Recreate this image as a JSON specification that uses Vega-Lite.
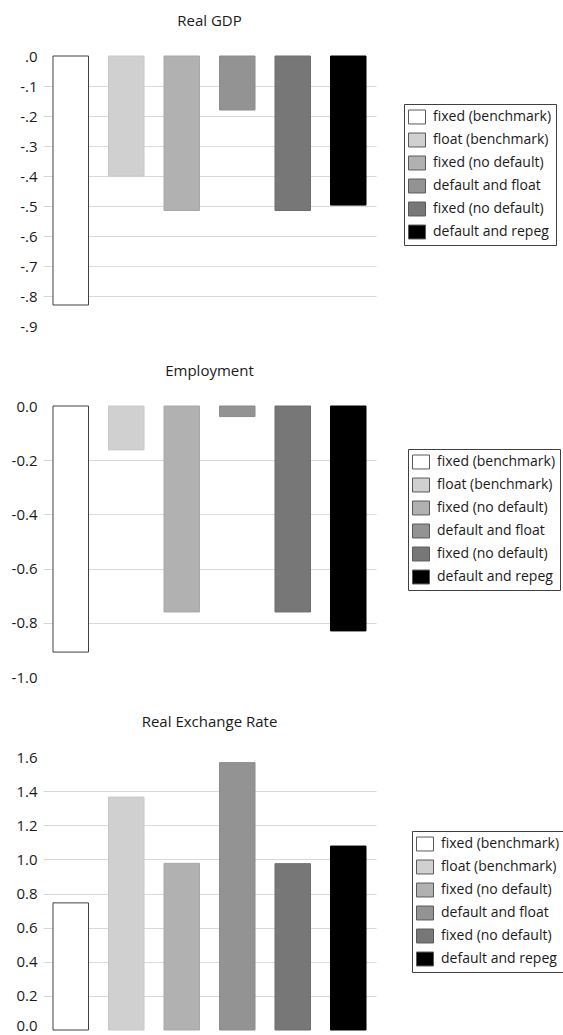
{
  "$schema": "https://vega.github.io/schema/vega-lite/v6.json",
  "padding": {"left": 11, "top": 14, "right": 0, "bottom": 0},
  "background": "white",
  "config": {
    "font": "Open Sans",
    "view": {"stroke": null},
    "title": {"fontSize": 15, "fontWeight": "normal", "color": "#1a1a1a", "anchor": "middle", "offset": 20},
    "axis": {"domain": false, "ticks": false, "labelFontSize": 15, "labelColor": "#1a1a1a", "labelPadding": 6, "gridColor": "#d9d9d9", "gridWidth": 1},
    "legend": {"labelFontSize": 14, "labelColor": "#1a1a1a", "strokeColor": "#404040", "fillColor": "white", "padding": 4, "rowPadding": 5, "labelOffset": 7, "symbolStrokeColor": "#595959", "symbolStrokeWidth": 1, "symbolType": "M-1,-0.82H1V0.82H-1Z", "symbolSize": 289, "orient": "none", "title": null}
  },
  "data": {
    "values": [
      {"panel": "Real GDP", "key": 1, "scenario": "fixed (benchmark)", "value": -0.83},
      {"panel": "Real GDP", "key": 2, "scenario": "float (benchmark)", "value": -0.40},
      {"panel": "Real GDP", "key": 3, "scenario": "fixed (no default)", "value": -0.515},
      {"panel": "Real GDP", "key": 4, "scenario": "default and float", "value": -0.18},
      {"panel": "Real GDP", "key": 5, "scenario": "fixed (no default)", "value": -0.515},
      {"panel": "Real GDP", "key": 6, "scenario": "default and repeg", "value": -0.497},
      {"panel": "Employment", "key": 1, "scenario": "fixed (benchmark)", "value": -0.908},
      {"panel": "Employment", "key": 2, "scenario": "float (benchmark)", "value": -0.162},
      {"panel": "Employment", "key": 3, "scenario": "fixed (no default)", "value": -0.76},
      {"panel": "Employment", "key": 4, "scenario": "default and float", "value": -0.039},
      {"panel": "Employment", "key": 5, "scenario": "fixed (no default)", "value": -0.76},
      {"panel": "Employment", "key": 6, "scenario": "default and repeg", "value": -0.83},
      {"panel": "Real Exchange Rate", "key": 1, "scenario": "fixed (benchmark)", "value": 0.745},
      {"panel": "Real Exchange Rate", "key": 2, "scenario": "float (benchmark)", "value": 1.365},
      {"panel": "Real Exchange Rate", "key": 3, "scenario": "fixed (no default)", "value": 0.977},
      {"panel": "Real Exchange Rate", "key": 4, "scenario": "default and float", "value": 1.567},
      {"panel": "Real Exchange Rate", "key": 5, "scenario": "fixed (no default)", "value": 0.975},
      {"panel": "Real Exchange Rate", "key": 6, "scenario": "default and repeg", "value": 1.078}
    ]
  },
  "vconcat": [
    {
      "title": "Real GDP",
      "width": 333,
      "height": 270,
      "transform": [{"filter": "datum.panel == 'Real GDP'"}],
      "mark": {"type": "bar", "strokeWidth": 1},
      "encoding": {
        "x": {"field": "key", "type": "nominal", "axis": null, "scale": {"paddingInner": 0.36, "paddingOuter": 0.18}},
        "y": {"field": "value", "type": "quantitative", "scale": {"domain": [-0.9, 0], "nice": false, "zero": false},
          "axis": {"title": null, "values": [0, -0.1, -0.2, -0.3, -0.4, -0.5, -0.6, -0.7, -0.8, -0.9],
            "labelExpr": "replace(replace(format(datum.value, '.1f'), '\u2212', '-'), '0.', '.')",
            "gridColor": {"condition": {"test": "datum.value == 0 || datum.value < -0.85", "value": "transparent"}, "value": "#d9d9d9"}}},
        "color": {"field": "key", "type": "nominal",
          "scale": {"domain": [1, 2, 3, 4, 5, 6], "range": ["#ffffff", "#d0d0d0", "#b1b1b1", "#939393", "#777777", "#000000"]},
          "legend": {"legendX": 361, "legendY": 48, "labelExpr": "['', 'fixed (benchmark)', 'float (benchmark)', 'fixed (no default)', 'default and float', 'fixed (no default)', 'default and repeg'][datum.value]"}},
        "stroke": {"field": "key", "type": "nominal", "legend": null,
          "scale": {"domain": [1, 2, 3, 4, 5, 6], "range": ["#404040", "#c8c8c8", "#a8a8a8", "#8a8a8a", "#6e6e6e", "#000000"]}}
      }
    },
    {
      "title": "Employment",
      "width": 333,
      "height": 271,
      "transform": [{"filter": "datum.panel == 'Employment'"}],
      "mark": {"type": "bar", "strokeWidth": 1},
      "encoding": {
        "x": {"field": "key", "type": "nominal", "axis": null, "scale": {"paddingInner": 0.36, "paddingOuter": 0.18}},
        "y": {"field": "value", "type": "quantitative", "scale": {"domain": [-1, 0], "nice": false, "zero": false},
          "axis": {"title": null, "values": [0, -0.2, -0.4, -0.6, -0.8, -1],
            "labelExpr": "replace(format(datum.value, '.1f'), '\u2212', '-')",
            "gridColor": {"condition": {"test": "datum.value == 0 || datum.value < -0.95", "value": "transparent"}, "value": "#d9d9d9"}}},
        "color": {"field": "key", "type": "nominal",
          "scale": {"domain": [1, 2, 3, 4, 5, 6], "range": ["#ffffff", "#d0d0d0", "#b1b1b1", "#939393", "#777777", "#000000"]},
          "legend": {"legendX": 365, "legendY": 43, "labelExpr": "['', 'fixed (benchmark)', 'float (benchmark)', 'fixed (no default)', 'default and float', 'fixed (no default)', 'default and repeg'][datum.value]"}},
        "stroke": {"field": "key", "type": "nominal", "legend": null,
          "scale": {"domain": [1, 2, 3, 4, 5, 6], "range": ["#404040", "#c8c8c8", "#a8a8a8", "#8a8a8a", "#6e6e6e", "#000000"]}}
      }
    },
    {
      "title": "Real Exchange Rate",
      "width": 333,
      "height": 273,
      "transform": [{"filter": "datum.panel == 'Real Exchange Rate'"}],
      "mark": {"type": "bar", "strokeWidth": 1},
      "encoding": {
        "x": {"field": "key", "type": "nominal", "axis": null, "scale": {"paddingInner": 0.36, "paddingOuter": 0.18}},
        "y": {"field": "value", "type": "quantitative", "scale": {"domain": [0, 1.6], "nice": false},
          "axis": {"title": null, "values": [0, 0.2, 0.4, 0.6, 0.8, 1, 1.2, 1.4, 1.6],
            "labelExpr": "format(datum.value, '.1f')",
            "labelOffset": {"condition": {"test": "datum.value == 0", "value": -5}, "value": 0},
            "gridColor": {"condition": {"test": "datum.value == 0 || datum.value > 1.55", "value": "transparent"}, "value": "#d9d9d9"}}},
        "color": {"field": "key", "type": "nominal",
          "scale": {"domain": [1, 2, 3, 4, 5, 6], "range": ["#ffffff", "#d0d0d0", "#b1b1b1", "#939393", "#777777", "#000000"]},
          "legend": {"legendX": 369, "legendY": 74, "labelExpr": "['', 'fixed (benchmark)', 'float (benchmark)', 'fixed (no default)', 'default and float', 'fixed (no default)', 'default and repeg'][datum.value]"}},
        "stroke": {"field": "key", "type": "nominal", "legend": null,
          "scale": {"domain": [1, 2, 3, 4, 5, 6], "range": ["#404040", "#c8c8c8", "#a8a8a8", "#8a8a8a", "#6e6e6e", "#000000"]}}
      }
    }
  ],
  "spacing": 30,
  "resolve": {"legend": {"color": "independent"}}
}
